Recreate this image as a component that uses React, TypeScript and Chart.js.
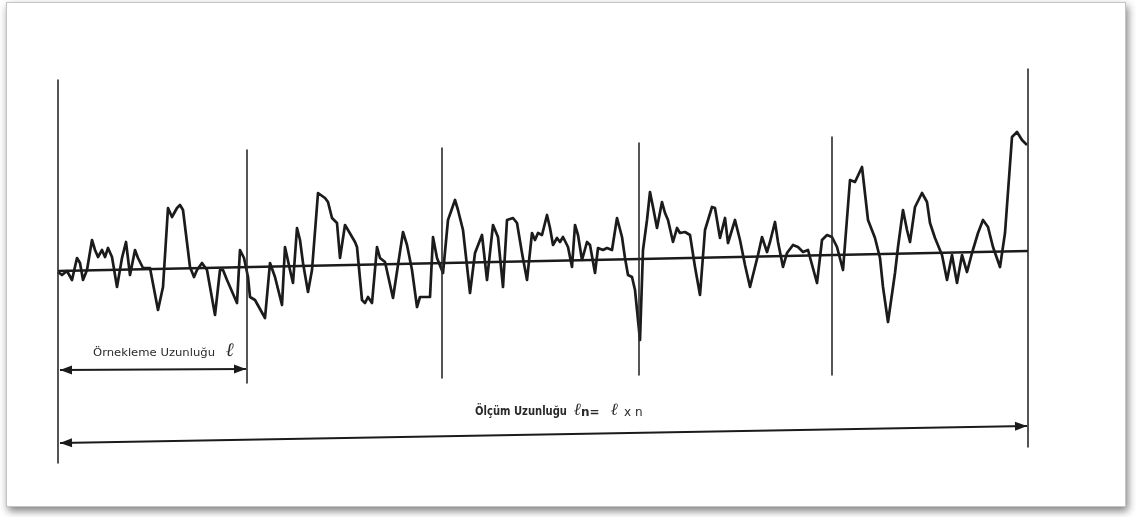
import React, { useEffect, useRef } from "react";
import { Chart, registerables } from "chart.js";
Chart.register(...registerables);

// Surface profile: distance along the trace and height relative to the reference
const profileDistance = [
  0, 4, 9, 14, 19, 22, 25, 29, 34, 37, 40, 44, 47, 50, 54, 59, 64, 68, 72, 77, 80, 85, 92, 100, 105, 110, 114, 119, 122, 125,
  132, 136, 139, 144, 149, 157, 162, 165, 169, 179, 182, 186, 190, 192, 197, 207, 212, 217, 224, 227, 232, 235, 239, 242, 245,
  250, 254, 260, 267, 270, 274, 279, 282, 287, 290, 297, 299, 304, 307, 310, 314, 319, 322, 327, 335, 345, 349, 354, 359, 362,
  372, 375, 379, 385, 390, 397, 400, 405, 412, 417, 424, 429, 435, 440, 445, 449, 455, 459, 464, 469, 474, 477, 480, 484, 489,
  492, 495, 499, 502, 505, 510, 514, 517, 520, 524, 529, 532, 537, 540, 545, 549, 554, 559, 564, 567, 570, 574, 577, 582, 585,
  589, 592, 595, 599, 604, 607, 610, 615, 619, 622, 627, 632, 637, 642, 647, 654, 657, 662, 667, 670, 677, 682, 687, 692, 697,
  700, 704, 709, 712, 717, 720, 725, 729, 735, 740, 745, 750, 759, 764, 769, 774, 779, 785, 792, 797, 804, 810, 817, 822, 825,
  830, 837, 840, 845, 849, 852, 857, 864, 869, 872, 877, 884, 889, 894, 899, 904, 909, 914, 920, 925, 930, 935, 942, 947, 954,
  959, 964, 969,
];
const profileHeight = [
  -1, -4, 0, -9, 13, 8, -9, 1, 31, 21, 14, 21, 14, 23, 14, -16, 13, 29, -4, 21, 13, 3, 3, -39, -16, 63, 54, 63, 66, 61,
  4, -6, 1, 8, 1, -44, 1, 1, -9, -32, 21, 13, -6, -26, -29, -47, 8, -6, -34, 24, 1, -12, 43, 31, 8,
  -21, 1, 78, 73, 69, 53, 48, 13, 46, 41, 29, 24, -29, -32, -26, -32, 24, 13, 9, -27, 39, 26, 1, -36, -26,
  -26, 34, 13, -2, 51, 71, 61, 41, -22, 18, 36, -9, 46, 34, -16, 51, 53, 48, 18, -9, 38, 31, 38, 36, 56,
  43, 26, 33, 29, 34, 24, 4, 46, 36, 11, 29, 26, -2, 23, 21, 23, 21, 53, 34, 13, -4, -6, -19, -69, 21,
  51, 79, 64, 43, 69, 58, 51, 29, 43, 38, 39, 36, 4, -24, 41, 64, 63, 33, 53, 28, 51, 31, 6, -16, 4,
  16, 34, 19, 29, 49, 29, 4, 18, 26, 24, 19, 21, -12, 31, 36, 34, 24, 1, 91, 89, 104, 51, 33, 13, -16,
  -51, -2, 24, 61, 41, 29, 64, 78, 69, 48, 33, 16, -9, 16, -12, 16, -1, 18, 38, 51, 44, 24, 4, 38, 134,
  139, 131, 126,
];

// Sampling-length boundaries (vertical markers)
const boundaryDistance = [0, 189, 384, 581, 774, 970];
const boundaryTop = [191, 121, 123, 128, 134, 202];
const boundaryBottom = [-192, -112, -107, -104, -104, -176];

// Mean line
const meanDistance = [0, 970];
const meanHeight = [0, 20];

// Dimension arrows
const sampleArrowDistance = [2, 188];
const sampleArrowHeight = [-99, -98];
const totalArrowDistance = [2, 969];
const totalArrowHeight = [-172, -155];

// Labels
const sampleLabel = "Örnekleme Uzunluğu";
const sampleSymbol = "ℓ";
const totalLabel = "Ölçüm Uzunluğu";
const totalSymbolA = "ℓ";
const totalSymbolN = "n=";
const totalSymbolB = "ℓ";
const totalSymbolC = "x n";

const INK = "#1b1b1b";

const framePlugin = {
  id: "frame",
  beforeDraw(chart: any) {
    const { ctx, width, height } = chart;
    ctx.save();
    ctx.fillStyle = "#ffffff";
    ctx.fillRect(0, 0, width, height);
    ctx.shadowColor = "rgba(0,0,0,0.5)";
    ctx.shadowBlur = 8;
    ctx.shadowOffsetX = 2;
    ctx.shadowOffsetY = 4;
    ctx.fillStyle = "#ffffff";
    ctx.fillRect(6, 2, 1120, 505);
    ctx.shadowColor = "transparent";
    ctx.strokeStyle = "#c4c4c4";
    ctx.lineWidth = 1;
    ctx.strokeRect(6.5, 2.5, 1119, 504);
    ctx.restore();
  },
};

const arrowPlugin = {
  id: "arrowHeads",
  afterDatasetsDraw(chart: any) {
    const { ctx } = chart;
    chart.data.datasets.forEach((ds: any, i: number) => {
      if (!ds.arrow) return;
      const pts = chart.getDatasetMeta(i).data;
      if (pts.length < 2) return;
      const a = pts[0];
      const b = pts[pts.length - 1];
      const ang = Math.atan2(b.y - a.y, b.x - a.x);
      const head = (x: number, y: number, dir: number) => {
        const len = 12;
        const half = 4.5;
        ctx.save();
        ctx.translate(x, y);
        ctx.rotate(dir);
        ctx.beginPath();
        ctx.moveTo(0, 0);
        ctx.lineTo(-len, -half);
        ctx.lineTo(-len, half);
        ctx.closePath();
        ctx.fillStyle = INK;
        ctx.fill();
        ctx.restore();
      };
      head(b.x, b.y, ang);
      head(a.x, a.y, ang + Math.PI);
    });
  },
};

const labelPlugin = {
  id: "labels",
  afterDraw(chart: any) {
    const { ctx, scales } = chart;
    const px = (d: number) => scales.x.getPixelForValue(d);
    const py = (h: number) => scales.y.getPixelForValue(h);
    ctx.save();
    ctx.fillStyle = "#2a2a2a";
    ctx.textBaseline = "middle";
    ctx.textAlign = "left";

    // sampling length label
    ctx.font = "500 11px 'DejaVu Sans Condensed', 'Liberation Sans Narrow', 'DejaVu Sans', sans-serif";
    const w1 = ctx.measureText(sampleLabel).width;
    ctx.save();
    ctx.translate(px(35), py(-82));
    ctx.scale(122 / w1, 1);
    ctx.fillText(sampleLabel, 0, 0);
    ctx.restore();
    ctx.font = "italic bold 19px 'DejaVu Serif', serif";
    ctx.fillText(sampleSymbol, px(168), py(-80));

    // measurement length label
    ctx.font = "bold 12px 'DejaVu Sans Condensed', 'Liberation Sans Narrow', 'DejaVu Sans', sans-serif";
    const w2 = ctx.measureText(totalLabel).width;
    ctx.save();
    ctx.translate(px(417), py(-141));
    ctx.scale(92 / w2, 1);
    ctx.fillText(totalLabel, 0, 0);
    ctx.restore();
    ctx.font = "italic bold 17px 'DejaVu Serif', serif";
    ctx.fillText(totalSymbolA, px(516), py(-140));
    ctx.fillText(totalSymbolB, px(553), py(-140));
    ctx.font = "bold 12px 'DejaVu Sans', sans-serif";
    ctx.fillText(totalSymbolN, px(523), py(-142));
    ctx.font = "12px 'DejaVu Sans', sans-serif";
    ctx.fillText(totalSymbolC, px(566), py(-142));
    ctx.restore();
  },
};

export default function App() {
  const ref = useRef<HTMLCanvasElement>(null);
  useEffect(() => {
    if (!ref.current) return;
    const line = (xs: number[], ys: number[], width: number, color = INK, extra: any = {}) => ({
      data: xs.map((x, i) => ({ x, y: ys[i] })),
      showLine: true,
      borderColor: color,
      borderWidth: width,
      pointRadius: 0,
      tension: 0,
      fill: false,
      borderJoinStyle: "round",
      borderCapStyle: "butt",
      ...extra,
    });
    const datasets: any[] = [];
    boundaryDistance.forEach((d, i) => {
      datasets.push(line([d, d], [boundaryTop[i], boundaryBottom[i]], 1.6, "#2b2b2b"));
    });
    datasets.push(line(meanDistance, meanHeight, 2.4));
    datasets.push(line(profileDistance, profileHeight, 2.7));
    datasets.push(line(sampleArrowDistance, sampleArrowHeight, 2.2, INK, { arrow: true }));
    datasets.push(line(totalArrowDistance, totalArrowHeight, 2.2, INK, { arrow: true }));

    const chart = new Chart(ref.current, {
      type: "scatter",
      data: { datasets },
      options: {
        responsive: false,
        animation: false,
        layout: { padding: 0 },
        plugins: { legend: { display: false }, tooltip: { enabled: false } },
        scales: {
          x: { type: "linear", min: -58, max: 1078, display: false },
          y: { type: "linear", min: -246, max: 271, display: false },
        },
      },
      plugins: [framePlugin, arrowPlugin, labelPlugin],
    } as any);
    return () => chart.destroy();
  }, []);
  return (
    <div style={{ position: "absolute", left: 0, top: 0, width: 1136, height: 517 }}>
      <canvas ref={ref} width={1136} height={517} style={{ display: "block" }} />
    </div>
  );
}
